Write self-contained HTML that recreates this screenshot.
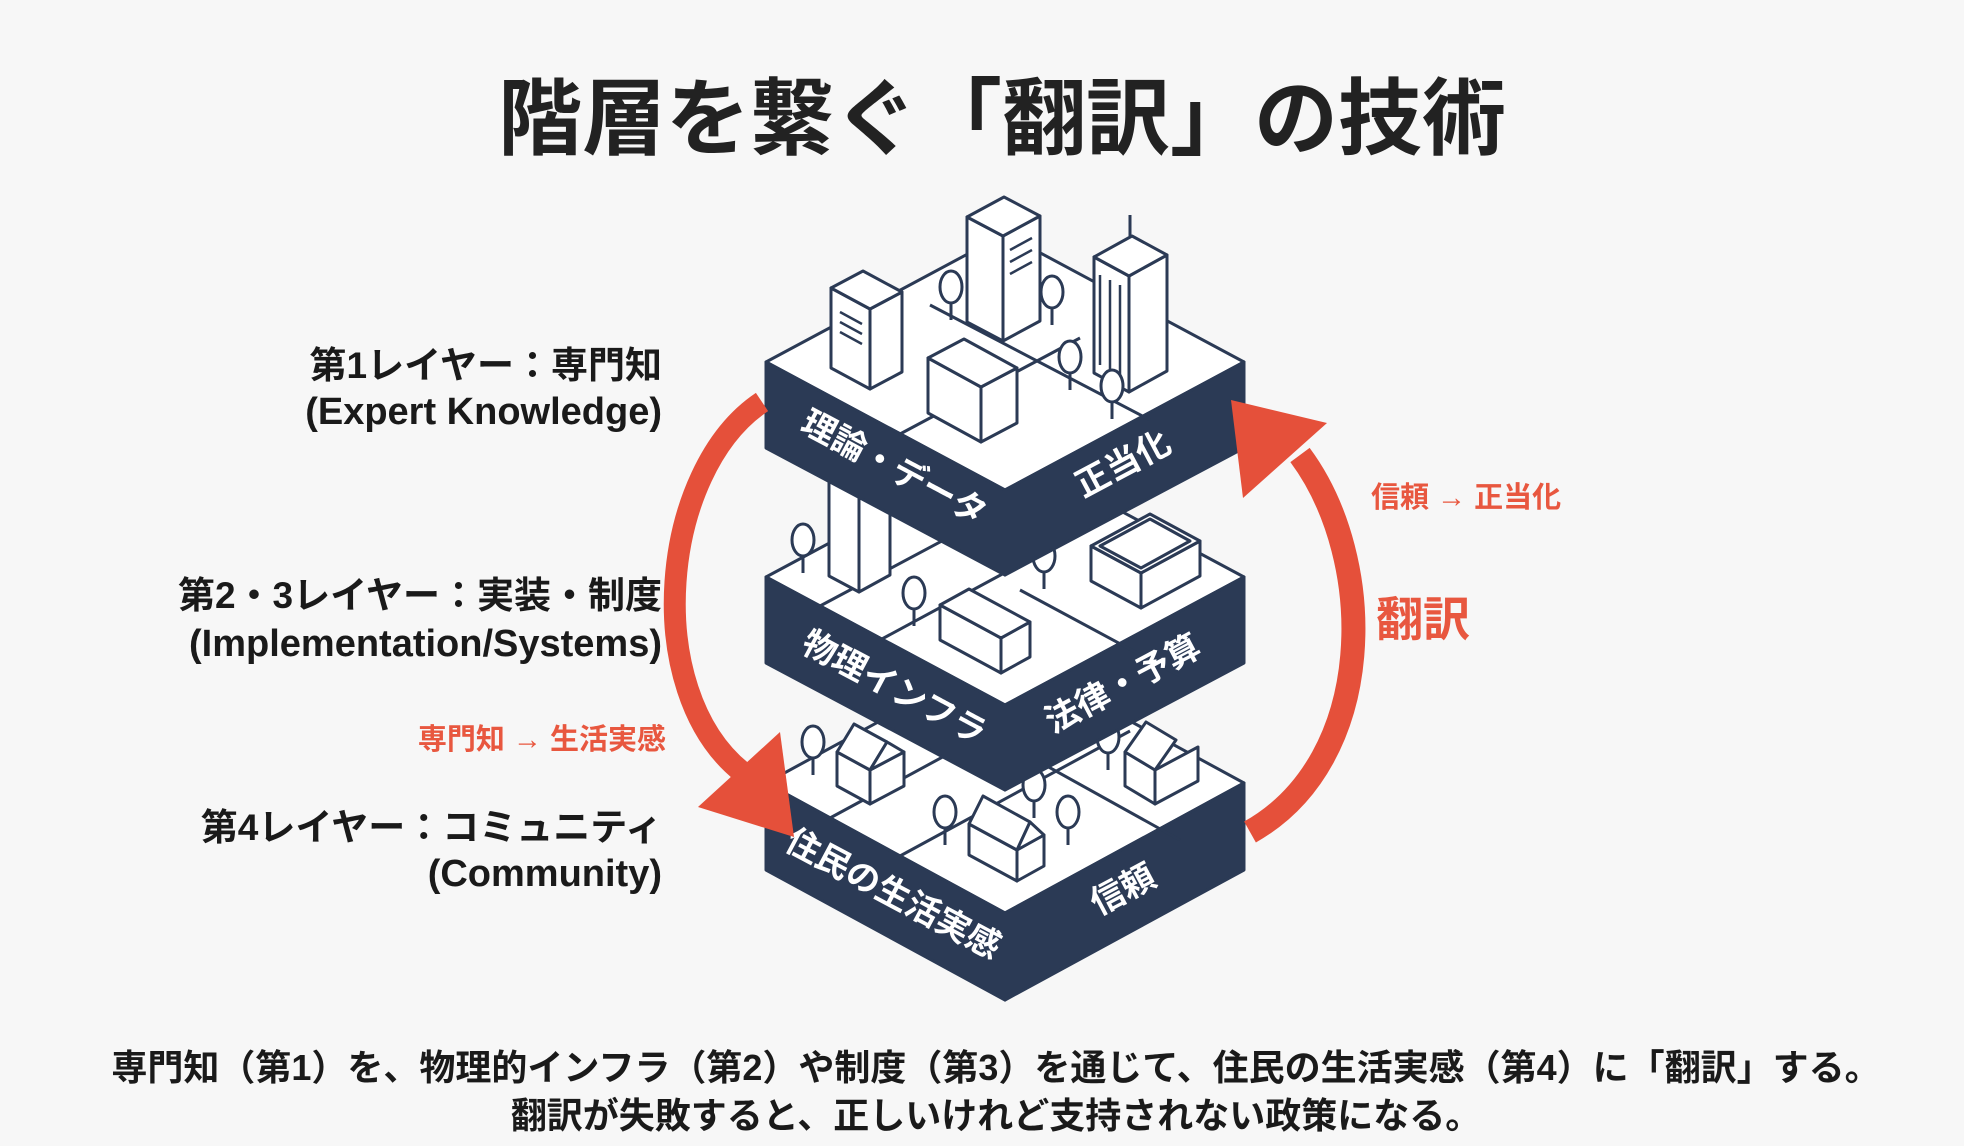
<!DOCTYPE html>
<html><head><meta charset="utf-8"><style>
html,body{margin:0;padding:0;background:#f7f7f7;}
svg{display:block;}
text{font-family:"Liberation Sans","Noto Sans CJK JP",sans-serif;}
</style></head><body>
<svg width="1964" height="1146" viewBox="0 0 1964 1146" xmlns="http://www.w3.org/2000/svg">
<rect width="1964" height="1146" fill="#f7f7f7"/>
<text x="1002" y="148" text-anchor="middle" font-size="84" font-weight="bold" fill="#222">階層を繋ぐ「翻訳」の技術</text>

<g font-size="37" font-weight="bold" fill="#1a1a1a" text-anchor="end">
<text x="662" y="378">第1レイヤー：専門知</text>
<text x="662" y="424" font-size="38">(Expert Knowledge)</text>
<text x="662" y="608">第2・3レイヤー：実装・制度</text>
<text x="662" y="656" font-size="38">(Implementation/Systems)</text>
<text x="662" y="840">第4レイヤー：コミュニティ</text>
<text x="662" y="886" font-size="38">(Community)</text>
</g>
<text x="666" y="749" text-anchor="end" font-size="29" font-weight="bold" fill="#e8573f">専門知 → 生活実感</text>
<text x="1371" y="507" font-size="29" font-weight="bold" fill="#e8573f">信頼 → 正当化</text>
<text x="1376" y="636" font-size="47" font-weight="bold" fill="#e8573f">翻訳</text>

<g stroke="#2b3a55" stroke-width="3" stroke-linejoin="round" fill="#fff">
<!-- bottom slab -->
<polygon points="766,783 1005,653 1244,783 1005,913"/>
<polygon points="766,783 1005,913 1005,1000 766,870" fill="#2b3a55"/>
<polygon points="1005,913 1244,783 1244,870 1005,1000" fill="#2b3a55"/>
<line x1="830" y1="818" x2="1070" y2="688"/>
<line x1="900" y1="856" x2="1130" y2="731"/>
<line x1="1000" y1="740" x2="1180" y2="840"/>
<polygon points="837,786 870,804 870,770 837,752"/>
<polygon points="870,804 904,786 904,752 870,770"/>
<polygon points="837,752 870,770 887,742 854,724"/>
<polygon points="870,770 904,752 887,742"/>
<polygon points="1125,786 1155,804 1155,770 1125,752"/>
<polygon points="1155,804 1198,781 1198,747 1155,770"/>
<polygon points="1125,752 1155,770 1176,740 1146,722"/>
<polygon points="969,855 1017,881 1017,850 969,824"/>
<polygon points="1017,881 1044,866 1044,835 1017,850"/>
<polygon points="969,824 1017,850 1030,822 983,796"/>
<polygon points="1017,850 1044,835 1030,822"/>
<g><ellipse cx="813" cy="742" rx="11" ry="16"/><line x1="813" y1="758" x2="813" y2="775"/></g>
<g><ellipse cx="945" cy="812" rx="11" ry="16"/><line x1="945" y1="828" x2="945" y2="845"/></g>
<g><ellipse cx="1034" cy="785" rx="11" ry="16"/><line x1="1034" y1="801" x2="1034" y2="818"/></g>
<g><ellipse cx="1068" cy="812" rx="11" ry="16"/><line x1="1068" y1="828" x2="1068" y2="845"/></g>
<g><ellipse cx="1108" cy="737" rx="11" ry="16"/><line x1="1108" y1="753" x2="1108" y2="770"/></g>

<!-- middle slab -->
<polygon points="766,577 1005,449 1244,577 1005,705"/>
<polygon points="766,577 1005,705 1005,790 766,663" fill="#2b3a55"/>
<polygon points="1005,705 1244,577 1244,663 1005,790" fill="#2b3a55"/>
<line x1="820" y1="606" x2="1060" y2="478"/>
<line x1="880" y1="640" x2="1110" y2="516"/>
<line x1="1020" y1="590" x2="1180" y2="676"/>
<polygon points="829,576 859,592 859,482 829,466"/>
<polygon points="859,592 890,575 890,465 859,482"/>
<polygon points="1091,581 1141,608 1141,573 1091,546"/>
<polygon points="1141,608 1200,576 1200,541 1141,573"/>
<polygon points="1091,546 1141,573 1200,541 1150,514"/>
<polygon points="1100,546 1141,568 1190,541 1150,519"/>
<polygon points="940,640 1001,673 1001,638 940,605"/>
<polygon points="1001,673 1030,657 1030,622 1001,638"/>
<polygon points="940,605 1001,638 1030,622 969,589"/>
<g><ellipse cx="803" cy="540" rx="11" ry="16"/><line x1="803" y1="556" x2="803" y2="573"/></g>
<g><ellipse cx="1044" cy="556" rx="11" ry="16"/><line x1="1044" y1="572" x2="1044" y2="589"/></g>
<g><ellipse cx="914" cy="593" rx="11" ry="16"/><line x1="914" y1="609" x2="914" y2="626"/></g>

<!-- top slab -->
<polygon points="766,362 1005,234 1244,362 1005,490"/>
<polygon points="766,362 1005,490 1005,575 766,448" fill="#2b3a55"/>
<polygon points="1005,490 1244,362 1244,448 1005,575" fill="#2b3a55"/>
<line x1="900" y1="434" x2="1080" y2="338"/>
<line x1="930" y1="305" x2="1150" y2="420"/>
<polygon points="967,322 1003,341 1003,236 967,217"/>
<polygon points="1003,341 1040,321 1040,216 1003,236"/>
<polygon points="967,217 1003,236 1040,216 1004,197"/>
<polygon points="831,368 870,389 870,309 831,288"/>
<polygon points="870,389 902,372 902,292 870,309"/>
<polygon points="831,288 870,309 902,292 863,271"/>
<polygon points="928,413 981,442 981,387 928,358"/>
<polygon points="981,442 1017,423 1017,368 981,387"/>
<polygon points="928,358 981,387 1017,368 964,339"/>
<polygon points="1094,373 1129,392 1129,276 1094,257"/>
<polygon points="1129,392 1167,371 1167,255 1129,276"/>
<polygon points="1094,257 1129,276 1167,255 1132,236"/>
<line x1="1130" y1="236" x2="1130" y2="215"/>
<g><ellipse cx="951" cy="287" rx="11" ry="16"/><line x1="951" y1="303" x2="951" y2="320"/></g>
<g><ellipse cx="1052" cy="292" rx="11" ry="16"/><line x1="1052" y1="308" x2="1052" y2="325"/></g>
<g><ellipse cx="1070" cy="357" rx="11" ry="16"/><line x1="1070" y1="373" x2="1070" y2="390"/></g>
<g><ellipse cx="1112" cy="386" rx="11" ry="16"/><line x1="1112" y1="402" x2="1112" y2="419"/></g>
</g>
<g stroke="#2b3a55" stroke-width="2.5">
<line x1="840" y1="312" x2="862" y2="324"/><line x1="840" y1="322" x2="862" y2="334"/><line x1="840" y1="332" x2="862" y2="344"/>
<line x1="1100" y1="275" x2="1100" y2="365"/><line x1="1110" y1="280" x2="1110" y2="370"/><line x1="1120" y1="285" x2="1120" y2="375"/>
<line x1="1010" y1="250" x2="1032" y2="238"/><line x1="1010" y1="262" x2="1032" y2="250"/><line x1="1010" y1="274" x2="1032" y2="262"/>
</g>

<g fill="#fff" font-size="34" font-weight="bold">
<text transform="translate(893,470) rotate(28)" text-anchor="middle" dominant-baseline="middle">理論・データ</text>
<text transform="translate(1124,466) rotate(-28)" text-anchor="middle" dominant-baseline="middle">正当化</text>
<text transform="translate(893,690) rotate(28)" text-anchor="middle" dominant-baseline="middle">物理インフラ</text>
<text transform="translate(1124,686) rotate(-28)" text-anchor="middle" dominant-baseline="middle">法律・予算</text>
<text transform="translate(892,896) rotate(28)" text-anchor="middle" dominant-baseline="middle">住民の生活実感</text>
<text transform="translate(1124,892) rotate(-28)" text-anchor="middle" dominant-baseline="middle">信頼</text>
</g>

<g fill="none" stroke="#e5503a" stroke-linecap="butt">
<path d="M762,402 C660,470 640,690 742,772" stroke-width="22"/>
<path d="M1250,832 C1378,760 1378,560 1300,455" stroke-width="24"/>
</g>
<polygon points="794,837 698,807 780,732" fill="#e5503a"/>
<polygon points="1231,400 1327,423 1243,498" fill="#e5503a"/>

<text x="996" y="1080" text-anchor="middle" font-size="36" font-weight="bold" fill="#1a1a1a">専門知（第1）を、物理的インフラ（第2）や制度（第3）を通じて、住民の生活実感（第4）に「翻訳」する。</text>
<text x="996" y="1128" text-anchor="middle" font-size="36" font-weight="bold" fill="#1a1a1a">翻訳が失敗すると、正しいけれど支持されない政策になる。</text>
</svg>
</body></html>
